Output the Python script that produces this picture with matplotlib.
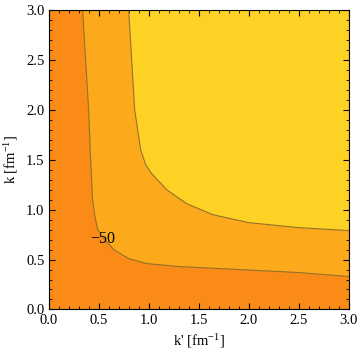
import matplotlib.pyplot as plt
from matplotlib.ticker import MultipleLocator

plt.rcParams['font.family'] = ['Liberation Serif', 'DejaVu Serif']
plt.rcParams['mathtext.default'] = 'regular'

# contour at -50 (outer boundary) as (k', k)
c50_kp = [0.34, 0.37, 0.40, 0.42, 0.44, 0.46, 0.49, 0.56, 0.65, 0.80, 0.98, 1.30, 1.90, 2.50, 3.00]
c50_k = [3.00, 2.50, 2.00, 1.50, 1.10, 0.95, 0.80, 0.70, 0.60, 0.51, 0.46, 0.43, 0.40, 0.37, 0.33]

# inner (unlabelled) contour
c2_kp = [0.80, 0.83, 0.86, 0.92, 0.97, 1.03, 1.18, 1.38, 1.64, 2.00, 2.50, 3.00]
c2_k = [3.00, 2.50, 2.00, 1.60, 1.45, 1.36, 1.20, 1.06, 0.95, 0.87, 0.82, 0.79]

fill_colors = ['#F98B16', '#FCA91B', '#FED224']
line_color = '#94722C'

fig = plt.figure(figsize=(3.6, 3.59), dpi=100)
ax = fig.add_axes([0.135, 0.138, 0.834, 0.834])
ax.set_facecolor(fill_colors[0])

ax.fill(c50_kp + [3.0], c50_k + [3.0], color=fill_colors[1], lw=0)
ax.fill(c2_kp + [3.0], c2_k + [3.0], color=fill_colors[2], lw=0)
ax.plot(c50_kp, c50_k, color=line_color, lw=0.8)
ax.plot(c2_kp, c2_k, color=line_color, lw=0.8)

ax.text(0.545, 0.71, '\u221250', fontsize=11.5, ha='center', va='center')

ax.set_xlim(0, 3)
ax.set_ylim(0, 3)
for axis in (ax.xaxis, ax.yaxis):
    axis.set_major_locator(MultipleLocator(0.5))
    axis.set_minor_locator(MultipleLocator(0.1))
    axis.set_major_formatter('{x:.1f}')
ax.tick_params(which='both', direction='in', top=True, right=True, labelsize=10.5, pad=3)
ax.tick_params(which='major', length=4, width=0.8)
ax.tick_params(which='minor', length=2, width=0.6)

ax.set_xlabel("k' [fm$^{-1}$]", fontsize=10.5, labelpad=4)
ax.set_ylabel("k [fm$^{-1}$]", fontsize=10.5, labelpad=4)

fig.savefig('out.png', dpi=100)
